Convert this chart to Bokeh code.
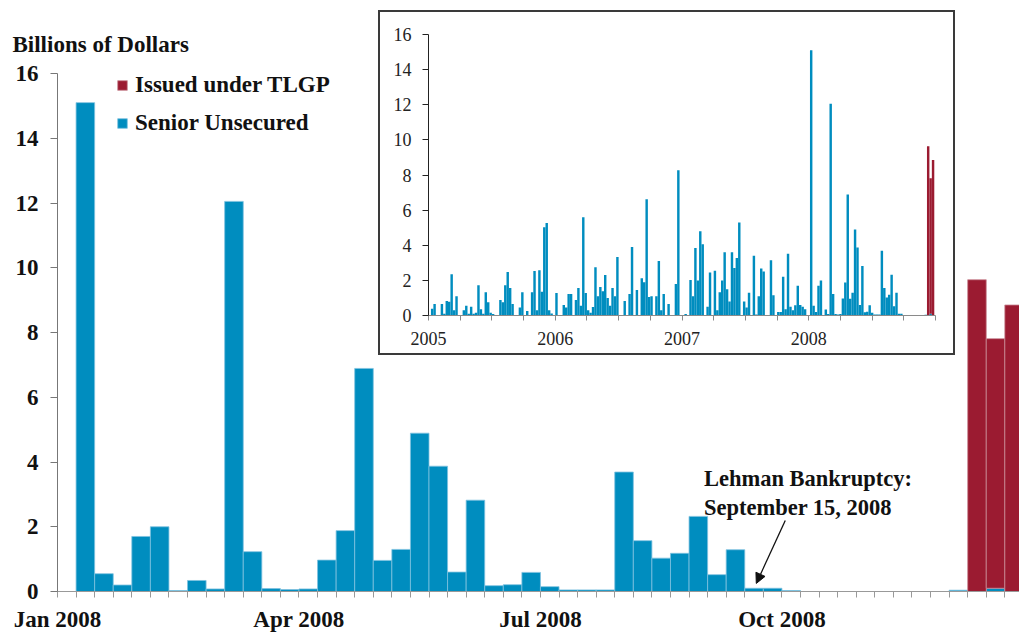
from bokeh.plotting import figure
from bokeh.models import (Range1d, FixedTicker, Legend, LegendItem, Label, Arrow,
                          NormalHead, ColumnDataSource)
from bokeh.embed import file_html
from bokeh.resources import INLINE

# ---------------- data ----------------
# main chart: weekly issuance in 2008 (slot 0 = first week of Jan 2008)
weeks = list(range(52))
senior_unsecured = [0, 15.1, 0.55, 0.2, 1.7, 2.0, 0.03, 0.34, 0.08, 12.05,
                    1.23, 0.09, 0.06, 0.08, 0.97, 1.88, 6.89, 0.96, 1.3, 4.89,
                    3.87, 0.6, 2.82, 0.18, 0.21, 0.59, 0.15, 0.05, 0.05, 0.05,
                    3.69, 1.57, 1.03, 1.18, 2.32, 0.52, 1.29, 0.1, 0.1, 0.03,
                    0, 0, 0, 0, 0, 0, 0, 0, 0.04, 0, 0.1, 0]
tlgp = [0] * 49 + [9.63, 7.71, 8.85]
main_tick_weeks = [0, 13, 26, 39]
main_tick_labels = ["Jan 2008", "Apr 2008", "Jul 2008", "Oct 2008"]
y_ticks = [0, 2, 4, 6, 8, 10, 12, 14, 16]

# inset: weekly senior unsecured issuance 2005-2007 (156 weeks)
hist_2005_2007 = [
    0, 0.38, 0.65, 0, 0, 0.65, 0.1, 0.82, 0.78, 2.35,
    0.3, 1.1, 0, 0, 0.3, 0.55, 0.1, 0.5, 0.1, 0.15,
    1.72, 0.35, 0.1, 1.33, 0.75, 0.15, 0.08, 0, 0, 0.88,
    0.75, 1.72, 2.48, 1.57, 0.65, 0, 0, 0.45, 1.33, 0,
    0.25, 0, 1.33, 2.53, 0.3, 2.58, 1.35, 5.03, 5.26, 0.3,
    0.12, 0, 1.28, 0, 0, 0.6, 0.45, 1.22, 1.22, 0,
    0.88, 1.57, 0.55, 5.6, 1.28, 0.3, 0.15, 0.48, 2.75, 1.1,
    1.62, 1.38, 2.3, 1.0, 0.55, 1.57, 1.1, 3.33, 0, 0,
    0.82, 0, 1.22, 3.9, 0, 1.45, 0, 2.12, 1.9, 6.62,
    1.05, 1.1, 0, 1.1, 3.1, 0.3, 1.22, 0, 0.65, 0,
    0, 1.8, 8.27, 0, 0, 0.08, 0, 2.02, 1.1, 3.85,
    2.0, 4.8, 4.06, 0, 0.5, 2.45, 0, 2.55, 0.3, 1.33,
    2.0, 3.6, 1.5, 0.8, 3.6, 2.7, 3.27, 5.3, 0, 0.8,
    0.45, 1.3, 0, 3.4, 0.05, 1.1, 2.68, 2.5, 0, 0,
    3.15, 1.15, 0, 0.2, 0.2, 2.2, 0.35, 3.52, 0.5, 0.3,
    0.58, 1.7, 0.6, 0.5, 0.35, 0]
inset_years = ["2005", "2006", "2007", "2008"]
weeks_per_year = 52

BLUE = "#008DBF"
RED = "#9B1B31"
FONT = "Liberation Serif"

# ---------------- main figure ----------------
p = figure(frame_width=962, frame_height=518, x_range=Range1d(0, 51.79), y_range=Range1d(0, 16),
           output_backend="svg", toolbar_location=None,
           min_border_left=57, min_border_right=0, min_border_top=73, min_border_bottom=43)
p.outline_line_color = None
p.xgrid.visible = False
p.ygrid.visible = False

red_idx = [i for i in weeks if tlgp[i] > 0]
blue_src = ColumnDataSource(dict(x=[w + 0.5 for w in weeks], top=senior_unsecured))
red_src = ColumnDataSource(dict(x=[weeks[i] + 0.5 for i in red_idx],
                                bottom=[senior_unsecured[i] for i in red_idx],
                                top=[senior_unsecured[i] + tlgp[i] for i in red_idx]))
r_blue = p.vbar(x="x", top="top", bottom=0, width=1.0, source=blue_src,
                fill_color=BLUE, line_color="#7fc2df", line_width=0.8)
r_red = p.vbar(x="x", top="top", bottom="bottom", width=1.0, source=red_src,
               fill_color=RED, line_color="#c98a96", line_width=0.8)

p.title.text = "Billions of Dollars"
p.title.align = "left"
p.title.offset = -45
p.title.standoff = 33
p.title.text_font = FONT
p.title.text_font_size = "23px"
p.title.text_font_style = "bold"
p.title.text_color = "#111111"

xa = p.xaxis[0]
xa.ticker = FixedTicker(ticks=weeks)
overrides = {w: "" for w in weeks}
for w, lab in zip(main_tick_weeks, main_tick_labels):
    overrides[w] = lab
xa.major_label_overrides = overrides
xa.major_tick_out = 6
xa.major_tick_in = 0
xa.minor_tick_line_color = None
xa.axis_line_color = "#999999"
xa.major_tick_line_color = "#999999"
xa.major_label_text_font = FONT
xa.major_label_text_font_size = "23px"
xa.major_label_text_font_style = "bold"
xa.major_label_text_color = "#111111"
xa.major_label_standoff = 9

ya = p.yaxis[0]
ya.ticker = FixedTicker(ticks=y_ticks)
ya.major_tick_out = 7
ya.major_tick_in = 0
ya.minor_tick_line_color = None
ya.axis_line_color = "#777777"
ya.major_tick_line_color = "#777777"
ya.major_label_text_font = FONT
ya.major_label_text_font_size = "23px"
ya.major_label_text_font_style = "bold"
ya.major_label_text_color = "#111111"
ya.major_label_standoff = 12

legend = Legend(items=[LegendItem(label="Issued under TLGP", renderers=[r_red]),
                       LegendItem(label="Senior Unsecured", renderers=[r_blue])],
                location=(59, 455), margin=0, padding=0,
                glyph_width=12, glyph_height=12, label_height=25, spacing=12,
                label_standoff=7, border_line_alpha=0, background_fill_alpha=0,
                label_text_font=FONT, label_text_font_size="23px",
                label_text_font_style="bold", label_text_color="#111111")
p.add_layout(legend, "center")

p.add_layout(Label(x=34.8, y=3.49, text="Lehman Bankruptcy:", text_font=FONT,
                   text_font_size="22.5px", text_font_style="bold",
                   text_baseline="alphabetic", text_color="#111111"))
p.add_layout(Label(x=34.8, y=2.59, text="September 15, 2008", text_font=FONT,
                   text_font_size="22.5px", text_font_style="bold",
                   text_baseline="alphabetic", text_color="#111111"))
p.add_layout(Arrow(end=NormalHead(size=10, fill_color="#111111", line_color="#111111"),
                   x_start=39.18, y_start=2.19, x_end=37.62, y_end=0.25,
                   line_color="#111111", line_width=1.3))

# ---------------- inset figure ----------------
q = figure(frame_width=507, frame_height=281, x_range=Range1d(0, 4 * weeks_per_year),
           y_range=Range1d(0, 16),
           output_backend="svg", toolbar_location=None,
           min_border_left=48, min_border_right=18, min_border_top=22, min_border_bottom=38,
           styles={"position": "absolute", "left": "378px", "top": "10px",
                   "border": "2px solid #3a3a3a", "background-color": "white",
                   "z-index": "5"})
q.outline_line_color = None
q.xgrid.visible = False
q.ygrid.visible = False

hist_x = [k + 0.5 for k in range(len(hist_2005_2007))]
q.vbar(x=hist_x, top=hist_2005_2007, width=1.0, fill_color=BLUE, line_color=None)
x2008 = [3 * weeks_per_year + w for w in weeks]
q.vbar(x=x2008, top=senior_unsecured, width=1.0, fill_color=BLUE, line_color=None)
q.vbar(x=[3 * weeks_per_year + weeks[i] for i in red_idx],
       bottom=[senior_unsecured[i] for i in red_idx],
       top=[senior_unsecured[i] + tlgp[i] for i in red_idx],
       width=1.0, fill_color=RED, line_color=None)

qx = q.xaxis[0]
q_ticks = list(range(0, 4 * weeks_per_year + 1, 13))
qx.ticker = FixedTicker(ticks=q_ticks)
q_over = {t: "" for t in q_ticks}
for i, yr in enumerate(inset_years):
    q_over[i * weeks_per_year] = yr
qx.major_label_overrides = q_over
qx.major_tick_out = 5
qx.major_tick_in = 0
qx.minor_tick_line_color = None
qx.axis_line_color = "#8a8a8a"
qx.major_tick_line_color = "#8a8a8a"
qx.major_label_text_font = FONT
qx.major_label_text_font_size = "18px"
qx.major_label_text_color = "#222222"
qx.major_label_standoff = 11

qy = q.yaxis[0]
qy.ticker = FixedTicker(ticks=y_ticks)
qy.major_tick_out = 6
qy.major_tick_in = 0
qy.minor_tick_line_color = None
qy.axis_line_color = "#222222"
qy.major_tick_line_color = "#222222"
qy.major_label_text_font = FONT
qy.major_label_text_font_size = "18px"
qy.major_label_text_color = "#222222"
qy.major_label_standoff = 11

open("out.html", "w").write(file_html([p, q], INLINE))
